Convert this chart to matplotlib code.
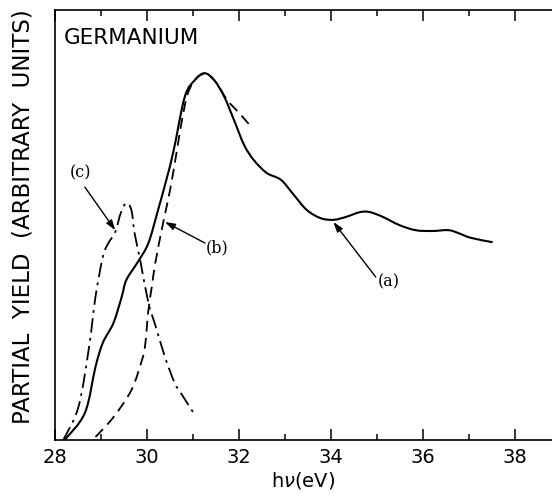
import matplotlib
matplotlib.use("Agg")
import matplotlib.pyplot as plt
import numpy as np
from matplotlib.path import Path
from matplotlib.patches import PathPatch
from matplotlib.ticker import MultipleLocator

# curve (a): total partial yield
a_energy = [28.21, 28.65, 28.88, 29.04, 29.27, 29.45, 29.55, 29.80, 30.03, 30.24,
            30.42, 30.58, 30.82, 31.04, 31.25, 31.46, 31.68, 31.89, 32.11, 32.32,
            32.60, 32.91, 33.19, 33.47, 33.77, 34.05, 34.33, 34.63, 34.84, 35.12,
            35.48, 35.83, 36.19, 36.55, 36.77, 37.04, 37.51]
a_yield = [0.0, 6.3, 17.0, 22.6, 27.2, 33.3, 37.2, 41.4, 45.8, 53.5,
           60.5, 67.4, 79.8, 83.7, 85.3, 83.7, 79.8, 74.4, 68.6, 65.1,
           62.1, 60.5, 57.0, 53.5, 51.6, 51.2, 51.9, 53.0, 53.0, 51.9,
           50.0, 48.8, 48.6, 48.8, 48.1, 47.0, 46.0]

# curve (b)
b_energy = [28.88, 29.27, 29.66, 29.89, 29.96, 30.03, 30.11, 30.18, 30.35, 30.50,
            30.65, 30.76, 30.89, 31.08, 31.29, 31.51, 31.74, 32.04, 32.28]
b_yield = [0.7, 5.3, 11.6, 18.6, 22.1, 30.2, 36.0, 41.2, 50.5, 58.1,
           67.4, 74.4, 80.7, 84.2, 85.1, 83.0, 79.1, 75.6, 72.6]

# curve (c)
c_energy = [28.18, 28.51, 28.74, 28.88, 29.04, 29.15, 29.31, 29.43, 29.55, 29.66,
            29.73, 29.85, 30.03, 30.18, 30.39, 30.60, 30.76, 31.01]
c_yield = [0.0, 7.7, 21.6, 33.3, 42.6, 45.6, 48.4, 52.8, 55.1, 53.5,
           48.1, 41.9, 31.9, 26.7, 19.3, 13.3, 10.5, 6.3]

x_ticks = [28, 30, 32, 34, 36, 38]


def smooth_path(xs, ys):
    """Cubic Bezier path passing through every point (Catmull-Rom tangents)."""
    p = np.column_stack([xs, ys]).astype(float)
    ext = np.vstack([p[0], p, p[-1]])
    verts = [p[0]]
    codes = [Path.MOVETO]
    for i in range(len(p) - 1):
        p0, p1, p2, p3 = ext[i], ext[i + 1], ext[i + 2], ext[i + 3]
        verts += [p1 + (p2 - p0) / 6, p2 - (p3 - p1) / 6, p2]
        codes += [Path.CURVE4] * 3
    return Path(verts, codes)


fig = plt.figure(figsize=(5.52, 4.97), dpi=100)
ax = fig.add_axes([0.0996, 0.1147, 0.9004, 0.8652])

ax.add_patch(PathPatch(smooth_path(a_energy, a_yield), fill=False,
                       edgecolor="black", lw=1.5))
ax.add_patch(PathPatch(smooth_path(b_energy, b_yield), fill=False,
                       edgecolor="black", lw=1.3, linestyle=(0, (6, 3.5))))
ax.add_patch(PathPatch(smooth_path(c_energy, c_yield), fill=False,
                       edgecolor="black", lw=1.3,
                       linestyle=(0, (8, 3, 1.5, 3))))

arrow = dict(arrowstyle="-|>,head_length=0.6,head_width=0.2", color="black",
             lw=1.0, shrinkA=0, shrinkB=0)
label_kw = dict(fontsize=11.5, family="DejaVu Serif", ha="center", va="center")
ax.text(35.25, 36.7, "(a)", **label_kw)
ax.annotate("", xy=(34.05, 50.7), xytext=(34.97, 37.9), arrowprops=arrow)
ax.text(31.52, 44.7, "(b)", **label_kw)
ax.annotate("", xy=(30.39, 50.7), xytext=(31.26, 45.8), arrowprops=arrow)
ax.text(28.55, 62.1, "(c)", **label_kw)
ax.annotate("", xy=(29.31, 48.8), xytext=(28.65, 58.8), arrowprops=arrow)

ax.text(0.018, 0.935, "GERMANIUM", transform=ax.transAxes, fontsize=15.5,
        ha="left", va="center")

ax.set_xlim(28, 38.8)
ax.set_ylim(0, 100)
ax.set_xticks(x_ticks)
ax.xaxis.set_minor_locator(MultipleLocator(1))
ax.set_yticks([])
ax.tick_params(axis="x", which="major", direction="in", length=8, width=1.1,
               top=True, labelsize=14, pad=6)
ax.tick_params(axis="x", which="minor", direction="in", length=4, width=1.1,
               top=True)
for side in ["left", "bottom", "top"]:
    ax.spines[side].set_linewidth(1.2)
ax.spines["right"].set_visible(False)

ax.set_xlabel(r"h$\nu$(eV)", fontsize=14, labelpad=2)
ax.set_ylabel("PARTIAL  YIELD  (ARBITRARY  UNITS)", fontsize=16.5, va="center")
ax.yaxis.set_label_coords(-0.064, 0.52)

fig.savefig("out.png", dpi=100)
